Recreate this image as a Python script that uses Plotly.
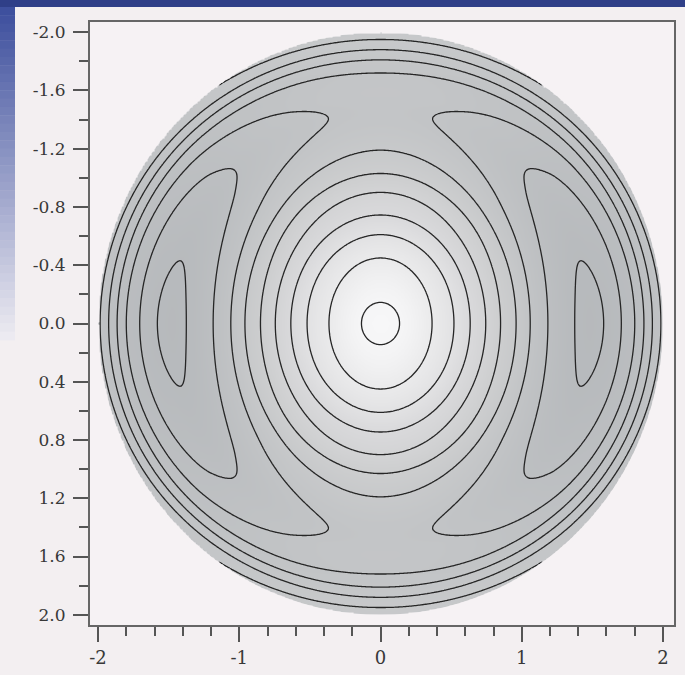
import numpy as np
import plotly.graph_objects as go

# ---- values ----
# contour levels (equal steps, highest in the centre)
contour_levels = [-10, -9, -8, -7, -6, -5, -4, -3, -2, -1]
# radii where the contours cross the vertical axis (x = 0) and their levels
v_radii  = [0.0, 0.145, 0.45, 0.61, 0.745, 0.90, 1.03, 1.19, 1.455, 1.72, 1.81, 1.88, 1.95, 2.03]
v_levels = [-0.85, -1, -2, -3, -4, -5, -6, -7, -7.85, -7, -6, -5, -4, -3.3]
# radii where the contours cross the horizontal axis (y = 0) and their levels
h_radii  = [0.0, 0.135, 0.365, 0.52, 0.635, 0.745, 0.85, 0.96, 1.06, 1.185, 1.375, 1.48,
            1.58, 1.705, 1.80, 1.865, 1.925, 1.985, 2.03]
h_levels = [-0.85, -1, -2, -3, -4, -5, -6, -7, -8, -9, -10, -10.2,
            -10, -9, -8, -7, -6, -5, -4.6]
disk_radius = 2.0

# tick labels
y_tickvals = [-2.0, -1.6, -1.2, -0.8, -0.4, 0.0, 0.4, 0.8, 1.2, 1.6, 2.0]
y_ticktext = ["-2.0", "-1.6", "-1.2", "-0.8", "-0.4", "0.0", "0.4", "0.8", "1.2", "1.6", "2.0"]
x_tickvals = [-2, -1, 0, 1, 2]
x_ticktext = ["-2", "-1", "0", "1", "2"]


def pchip(xk, yk, xq):
    xk = np.asarray(xk, float)
    yk = np.asarray(yk, float)
    h = np.diff(xk)
    d = np.diff(yk) / h
    n = len(xk)
    m = np.zeros(n)
    for k in range(1, n - 1):
        if d[k - 1] * d[k] > 0:
            w1 = 2 * h[k] + h[k - 1]
            w2 = h[k] + 2 * h[k - 1]
            m[k] = (w1 + w2) / (w1 / d[k - 1] + w2 / d[k])
    m[0] = 0.0
    m[-1] = d[-1]
    xq = np.clip(xq, xk[0], xk[-1])
    i = np.clip(np.searchsorted(xk, xq) - 1, 0, n - 2)
    hh = h[i]
    t = (xq - xk[i]) / hh
    h00 = 2 * t**3 - 3 * t**2 + 1
    h10 = t**3 - 2 * t**2 + t
    h01 = -2 * t**3 + 3 * t**2
    h11 = t**3 - t**2
    return h00 * yk[i] + h10 * hh * m[i] + h01 * yk[i + 1] + h11 * hh * m[i + 1]


gx = np.linspace(-2.02, 2.02, 405)
gy = np.linspace(-2.02, 2.02, 405)
X, Y = np.meshgrid(gx, gy)
R = np.hypot(X, Y)
C2 = np.where(R > 0, (X / np.where(R > 0, R, 1)) ** 2, 1.0)
F = pchip(v_radii, v_levels, R)
H = pchip(h_radii, h_levels, R)
Z = F + (H - F) * C2
Z[R > disk_radius] = np.nan
# shading used for the grey fill: the rim of the disk stays grey
shade = Z - 12.0 * np.clip(R - 1.55, 0, None) ** 1.5

grey_scale = [[0.0, "#b5b8bb"], [0.26, "#c2c4c6"], [0.47, "#cdcecf"],
              [0.67, "#d9d9db"], [0.88, "#eaeaeb"], [1.0, "#f7f7f8"]]

fig = go.Figure()
fig.add_trace(go.Heatmap(
    x=gx, y=gy, z=shade, colorscale=grey_scale, zmin=-10.5, zmax=-0.85,
    zsmooth="best", showscale=False, hoverinfo="skip",
))
fig.add_trace(go.Contour(
    x=gx, y=gy, z=Z,
    contours=dict(start=contour_levels[0], end=contour_levels[-1], size=1,
                  coloring="lines", showlines=True),
    line=dict(width=1.3, smoothing=1),
    colorscale=[[0, "#262626"], [1, "#262626"]],
    showscale=False, connectgaps=False, hoverinfo="skip",
))

# plot-area geometry in pixels (for decorative background only)
L, RGT, T, B = 90, 674, 22, 625
W, HH = RGT - L, B - T


def xp(px):
    return (px - L) / W


def yp(py):
    return (B - py) / HH


shapes = []
# soft rim that hides the pixel steps of the disk edge
rr = disk_radius + 0.012
shapes.append(dict(type="circle", xref="x", yref="y", x0=-rr, x1=rr, y0=-rr, y1=rr,
                   line=dict(color="#f6f2f4", width=3.5), layer="above"))
# dark blue band along the top
shapes.append(dict(type="rect", xref="paper", yref="paper", x0=xp(0), x1=xp(685),
                   y0=yp(7), y1=yp(0), fillcolor="#2f3f88", line_width=0, layer="below"))
# blue gradient strip on the left
c0 = np.array([62, 80, 158])
c1 = np.array([236, 234, 241])
steps = 40
for s in range(steps):
    f = s / (steps - 1)
    c = (c0 * (1 - f) + c1 * f).astype(int)
    y_top = 7 + s * (340 - 7) / steps
    y_bot = 7 + (s + 1) * (340 - 7) / steps + 0.5
    shapes.append(dict(type="rect", xref="paper", yref="paper", x0=xp(0), x1=xp(15),
                       y0=yp(y_bot), y1=yp(y_top),
                       fillcolor="rgb(%d,%d,%d)" % tuple(c), line_width=0, layer="below"))

tick_font_y = dict(family="DejaVu Serif", size=17, color="#383838")
tick_font_x = dict(family="DejaVu Serif", size=18, color="#383838")

fig.update_layout(
    width=685, height=675,
    margin=dict(l=L, r=685 - RGT, t=T, b=675 - B, autoexpand=False),
    paper_bgcolor="#f3eff1",
    plot_bgcolor="#f6f2f4",
    showlegend=False,
    shapes=shapes,
    xaxis=dict(range=[-2.057, 2.078], tickmode="array", tickvals=x_tickvals, ticktext=x_ticktext,
               ticks="outside", ticklen=15, tickwidth=1.6, tickcolor="#555",
               minor=dict(tickmode="linear", tick0=-2, dtick=0.2, ticks="outside", ticklen=9,
                          tickwidth=1.6, tickcolor="#555", showgrid=False),
               showgrid=False, zeroline=False, showline=True, linecolor="#666", linewidth=2,
               mirror=True, tickfont=tick_font_x, automargin=False),
    yaxis=dict(range=[2.07, -2.07], tickmode="array", tickvals=y_tickvals, ticktext=y_ticktext,
               ticks="outside", ticklen=15, tickwidth=1.6, tickcolor="#555",
               minor=dict(tickmode="linear", tick0=-2, dtick=0.2, ticks="outside", ticklen=9,
                          tickwidth=1.6, tickcolor="#555", showgrid=False),
               showgrid=False, zeroline=False, showline=True, linecolor="#666", linewidth=2,
               mirror=True, tickfont=tick_font_y, ticklabelstandoff=4, automargin=False),
)

fig.write_html("out.html", config={"displayModeBar": False},
               post_script="document.body.style.margin='0';document.body.style.padding='0';")
